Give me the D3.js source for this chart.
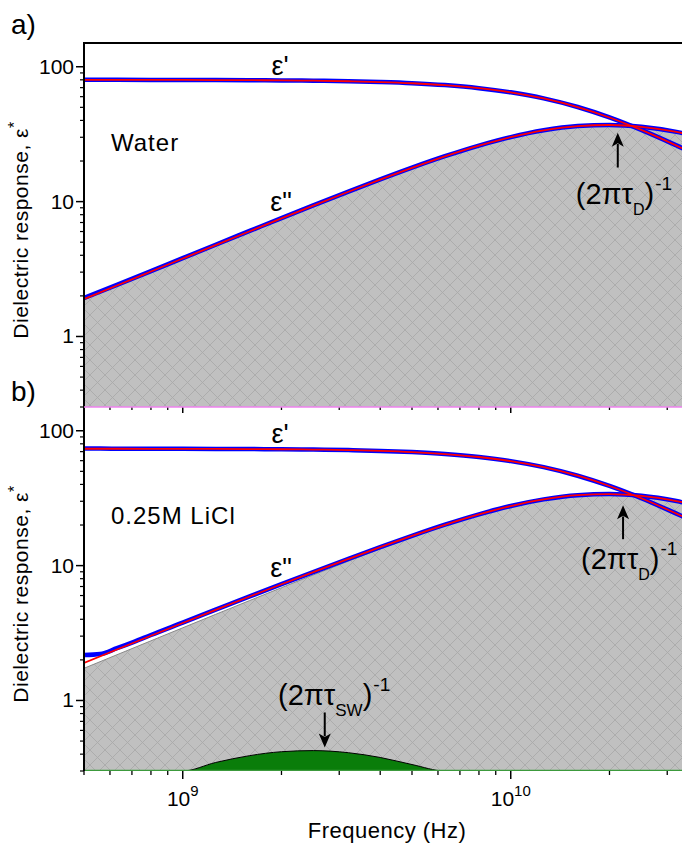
<!DOCTYPE html>
<html><head><meta charset="utf-8">
<script src="https://cdn.jsdelivr.net/npm/d3@7"></script>
<style>
body{margin:0;background:#fff}
svg{display:block}
text{font-family:"Liberation Sans",Arial,sans-serif;fill:#000}
</style>
</head><body>
<svg id="c" width="682" height="846"></svg>
<script>
// ---------- data ----------
const freq = [5e8,6.3e8,8e8,1e9,1.26e9,1.6e9,2e9,2.5e9,3.2e9,4e9,5e9,6.3e9,8e9,1e10,1.26e10,1.6e10,2e10,2.5e10,3.2e10,4e10];

// a) Water
const waterPrimeFit   = [79.95,79.92,79.88,79.81,79.69,79.50,79.23,78.80,78.06,77.01,75.44,73.00,69.34,64.59,58.20,50.22,42.06,33.99,26.04,20.21];
const waterPrimeMeas  = [80.10,80.00,79.90,79.80,79.60,79.40,79.20,78.80,78.10,77.00,75.50,73.10,69.40,64.60,58.30,50.30,42.10,34.00,26.10,20.30];
const waterLossFit    = [1.896,2.389,3.031,3.785,4.762,6.031,7.511,9.333,11.83,14.57,17.80,21.65,25.99,30.05,33.73,36.29,36.99,35.88,32.88,29.15];
const waterLossMeas   = [1.93,2.41,3.05,3.81,4.79,6.06,7.55,9.37,11.86,14.60,17.85,21.70,26.05,30.10,33.80,36.35,37.05,35.90,32.90,29.20];
const waterLossDebye  = [1.896,2.389,3.031,3.785,4.762,6.031,7.511,9.333,11.83,14.57,17.80,21.65,25.99,30.05,33.73,36.29,36.99,35.88,32.88,29.15];

// b) 0.25M LiCl
const liclPrimeFit    = [73.55,73.52,73.49,73.43,73.32,73.14,72.90,72.50,71.83,70.87,69.43,67.20,63.86,59.52,53.68,46.40,38.94,31.57,24.31,18.98];
const liclLossFit     = [1.899,2.388,3.021,3.756,4.697,5.899,7.278,8.951,11.21,13.69,16.60,20.07,23.98,27.65,30.97,33.28,33.89,32.86,30.10,26.68];
const liclLossDebye   = [1.732,2.182,2.769,3.458,4.350,5.509,6.861,8.526,10.80,13.31,16.26,19.78,23.74,27.45,30.81,33.15,33.79,32.78,30.04,26.63];
const liclLossSW      = [0.167,0.206,0.252,0.298,0.347,0.390,0.417,0.425,0.410,0.378,0.335,0.286,0.237,0.196,0.159,0.127,0.102,0.082,0.064,0.052];

const liclFreqMeas    = [5e8,5.6e8,6.3e8,7.1e8,8e8,1e9,1.26e9,1.6e9,2e9,2.5e9,3.2e9,4e9,5e9,6.3e9,8e9,1e10,1.26e10,1.6e10,2e10,2.5e10,3.2e10,4e10];
const liclPrimeMeas   = [73.9,73.8,73.6,73.55,73.5,73.45,73.35,73.15,72.9,72.5,71.85,70.9,69.45,67.25,63.9,59.55,53.7,46.4,38.95,31.6,24.3,19.0];
const liclLossMeas    = [2.17,2.21,2.44,2.72,3.06,3.78,4.71,5.91,7.29,8.96,11.22,13.70,16.62,20.10,24.00,27.70,31.00,33.30,33.90,32.90,30.10,26.70];

const yMajorTicks = [1,10,100];
const yTickLabels = ["1","10","100"];
const yMinorTicks = [0.3,0.4,0.5,0.6,0.7,0.8,0.9,2,3,4,5,6,7,8,9,20,30,40,50,60,70,80,90];
const xMajorTicks = [1e9,1e10];
const xTickExp    = ["9","10"];
const xMinorTicks = [5e8,6e8,7e8,8e8,9e8,2e9,3e9,4e9,5e9,6e9,7e9,8e9,9e9,2e10,3e10,4e10];

// ---------- layout ----------
const svg = d3.select("#c");
const L = 84, W = 682;
const panels = [
  {id:"a", top:43,  bottom:407, name:"Water",
   primeFit:waterPrimeFit, primeMeas:waterPrimeMeas, lossFit:waterLossFit, lossMeas:waterLossMeas,
   measFreq:freq, debye:waterLossDebye, sw:null, tauD:2.12e10, tip:32.4, tail:17.9, labY:204},
  {id:"b", top:407, bottom:771, name:"0.25M LiCl",
   primeFit:liclPrimeFit, primeMeas:liclPrimeMeas, lossFit:liclLossFit, lossMeas:liclLossMeas,
   measFreq:liclFreqMeas, debye:liclLossDebye, sw:liclLossSW, tauD:2.2e10, tip:28, tail:15.7, labY:569}
];

const x = d3.scaleLog().domain([5e8,4e10]).range([L, L + 328*Math.log10(80)]);

const defs = svg.append("defs");
const pat = defs.append("pattern").attr("id","hatch").attr("patternUnits","userSpaceOnUse")
  .attr("width",15).attr("height",15);
pat.append("rect").attr("width",15).attr("height",15).attr("fill","#c0c0c0");
pat.append("path").attr("d","M0,0L15,15M15,0L0,15M-1,14L1,16M14,-1L16,1")
  .attr("stroke","#a9a9a9").attr("stroke-width",0.9).attr("fill","none");

panels.forEach(p => {
  const y = d3.scaleLog().domain([0.3,150]).range([p.bottom, p.top]);
  p.y = y;
  defs.append("clipPath").attr("id","clip"+p.id).append("rect")
    .attr("x",L).attr("y",p.top).attr("width",W-L).attr("height",p.bottom-p.top);
  const g = svg.append("g").attr("clip-path",`url(#clip${p.id})`);

  // hatched Debye loss area
  const area = d3.area().x((d,i)=>x(freq[i])).y0(p.bottom).y1(d=>y(d)).curve(d3.curveMonotoneX);
  g.append("path").datum(p.debye).attr("d",area).attr("fill","url(#hatch)");
  const topLine = d3.line().x((d,i)=>x(freq[i])).y(d=>y(d)).curve(d3.curveMonotoneX);
  if (p.id==="b") {
    g.append("path").datum(p.debye).attr("d",topLine).attr("fill","none").attr("stroke","#8a8a8a").attr("stroke-width",1);
  }

  // SW mode (green)
  if (p.sw) {
    const swArea = d3.area().x((d,i)=>x(freq[i])).y0(p.bottom).y1(d=>y(Math.max(d,0.3))).curve(d3.curveMonotoneX);
    g.append("path").datum(p.sw).attr("d",swArea).attr("fill","#0a7d0a");
    g.append("path").datum(p.sw).attr("d",d3.line().x((d,i)=>x(freq[i])).y(d=>y(Math.max(d,0.3))).curve(d3.curveMonotoneX))
      .attr("fill","none").attr("stroke","#000").attr("stroke-width",1);
    g.append("line").attr("x1",L).attr("x2",W).attr("y1",p.bottom-0.5).attr("y2",p.bottom-0.5)
      .attr("stroke","#3c9a3c").attr("stroke-width",1.5);
  }

  // measured (blue) and fit (red)
  const lineM = d3.line().x((d,i)=>x(p.measFreq[i])).y(d=>y(d)).curve(d3.curveMonotoneX);
  const lineF = d3.line().x((d,i)=>x(freq[i])).y(d=>y(d)).curve(d3.curveMonotoneX);
  [p.primeMeas, p.lossMeas].forEach(s => g.append("path").datum(s).attr("d",lineM)
    .attr("fill","none").attr("stroke","#0000ff").attr("stroke-width",4.5));
  [p.primeFit, p.lossFit].forEach(s => g.append("path").datum(s).attr("d",lineF)
    .attr("fill","none").attr("stroke","#ff0000").attr("stroke-width",1.8));

  // left axis
  svg.append("line").attr("x1",L).attr("x2",L).attr("y1",p.top).attr("y2",p.bottom).attr("stroke","#000").attr("stroke-width",2);
  yMajorTicks.forEach((v,i) => {
    svg.append("line").attr("x1",L-8).attr("x2",L).attr("y1",y(v)).attr("y2",y(v)).attr("stroke","#000").attr("stroke-width",1.5);
    svg.append("text").attr("x",L-10).attr("y",y(v)+7).attr("text-anchor","end")
      .attr("font-size",21).text(yTickLabels[i]);
  });
  yMinorTicks.forEach(v => svg.append("line").attr("x1",L-4).attr("x2",L).attr("y1",y(v)).attr("y2",y(v))
    .attr("stroke","#000").attr("stroke-width",1.2));

  // bottom axis ticks
  const tb = p.id==="a" ? [3,6] : [4,8];
  xMinorTicks.filter(v=>x(v)<=W).forEach(v => svg.append("line").attr("x1",x(v)).attr("x2",x(v))
    .attr("y1",p.bottom).attr("y2",p.bottom+tb[0]).attr("stroke","#000").attr("stroke-width",1.3));
  xMajorTicks.forEach(v => svg.append("line").attr("x1",x(v)).attr("x2",x(v))
    .attr("y1",p.bottom).attr("y2",p.bottom+tb[1]).attr("stroke","#000").attr("stroke-width",1.5));

  // y title
  const cy = (p.top+p.bottom)/2 + 5;
  const yt = svg.append("text").attr("transform",`translate(28,${cy}) rotate(-90)`)
    .attr("text-anchor","middle").attr("font-size",21).attr("letter-spacing",0.5);
  yt.append("tspan").text("Dielectric response, ε");
  yt.append("tspan").attr("dy",-8).attr("font-size",16).text("*");

  // sample name
  svg.append("text").attr("x",111).attr("y",p.id==="a"?151:524).attr("font-size",24)
    .attr("letter-spacing",1).text(p.name);

  // ε labels
  svg.append("text").attr("x",280).attr("y",p.id==="a"?75:443).attr("text-anchor","middle")
    .attr("font-size",27).text("ε'");
  svg.append("text").attr("x",281).attr("y",p.id==="a"?211:577).attr("text-anchor","middle")
    .attr("font-size",27).text("ε\"");

  // tau_D arrow + label
  const ax = x(p.tauD);
  drawArrow(ax, y(p.tail), y(p.tip));
  annot(ax-42, p.labY, "D", 16);
});

// panel frame lines
svg.append("line").attr("x1",L-1).attr("x2",W).attr("y1",43).attr("y2",43).attr("stroke","#000").attr("stroke-width",2);
svg.append("line").attr("x1",L).attr("x2",W).attr("y1",407).attr("y2",407).attr("stroke","#ee82ee").attr("stroke-width",1.5);

// SW arrow + label
{
  const p = panels[1];
  const sx = x(2.71e9);
  drawArrow(sx, p.y(0.815), p.y(0.448));
  annot(278, 705, "SW", 17);
}

// x tick labels
xMajorTicks.forEach((v,i) => {
  const t = svg.append("text").attr("x",x(v)).attr("y",806).attr("text-anchor","middle").attr("font-size",21);
  t.append("tspan").text("10");
  t.append("tspan").attr("dy",-10).attr("font-size",15).text(xTickExp[i]);
});
svg.append("text").attr("x",387).attr("y",838).attr("text-anchor","middle").attr("font-size",22)
  .attr("letter-spacing",0.5).text("Frequency (Hz)");

// panel letters
svg.append("text").attr("x",11).attr("y",34).attr("font-size",28).text("a)");
svg.append("text").attr("x",11).attr("y",401).attr("font-size",28).text("b)");

function drawArrow(ax, y0, y1){
  const dir = y1 < y0 ? 1 : -1; // 1: pointing up
  const hl = 14, hw = 6;
  svg.append("line").attr("x1",ax).attr("x2",ax).attr("y1",y0).attr("y2",y1 + dir*hl*0.8)
    .attr("stroke","#000").attr("stroke-width",2);
  svg.append("path").attr("d",`M${ax},${y1}L${ax-hw},${y1+dir*hl}L${ax},${y1+dir*hl*0.75}L${ax+hw},${y1+dir*hl}Z`).attr("fill","#000");
}
function annot(x0, yb, sub, subSize){
  const t = svg.append("text").attr("x",x0).attr("y",yb).attr("font-size",29);
  t.append("tspan").text("(2πτ");
  t.append("tspan").attr("font-size",subSize).attr("dy",11).text(sub);
  t.append("tspan").attr("font-size",29).attr("dy",-11).text(")");
  t.append("tspan").attr("font-size",19).attr("dy",-14).attr("dx",1).text("-1");
}
</script>
</body></html>
